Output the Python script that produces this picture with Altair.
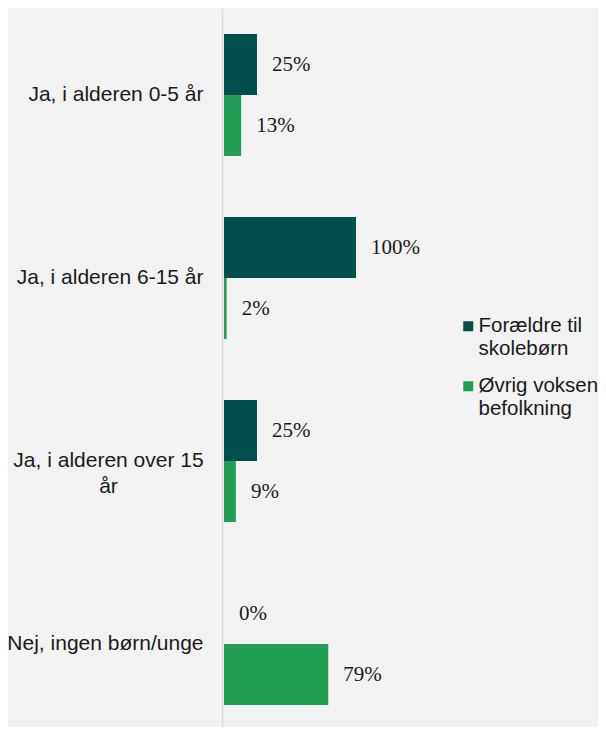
import altair as alt
import pandas as pd

categories = ["Ja, i alderen 0-5 år", "Ja, i alderen 6-15 år", "Ja, i alderen over 15 år", "Nej, ingen børn/unge"]
series = ["Forældre til skolebørn", "Øvrig voksen befolkning"]
foraeldre = [25, 100, 25, 0]
ovrig = [13, 2, 9, 79]
colors = ["#004F4D", "#229E54"]

rows = []
for c, a, b in zip(categories, foraeldre, ovrig):
    rows.append({"kategori": c, "serie": series[0], "vaerdi": a, "label": f"{a}%"})
    rows.append({"kategori": c, "serie": series[1], "vaerdi": b, "label": f"{b}%"})
df = pd.DataFrame(rows)

multi = "Ja, i alderen over 15 år"

y_enc = alt.Y(
    "kategori:N",
    sort=categories,
    scale=alt.Scale(paddingInner=1 / 3, paddingOuter=0.1311, align=0.542),
    axis=alt.Axis(
        title=None,
        offset=2,
        ticks=False,
        tickSize=0,
        grid=False,
        domainColor="#D9D9D9",
        domainWidth=1.5,
        labelFont="Liberation Sans",
        labelFontSize=21,
        labelColor="#1a1a1a",
        labelLimit=0,
        labelLineHeight=26,
        labelExpr=f"datum.label == '{multi}' ? ['Ja, i alderen over 15', 'år'] : datum.label",
        labelAlign={"condition": {"test": f"datum.label == '{multi}'", "value": "center"}, "value": "right"},
        labelPadding={"condition": {"test": f"datum.label == '{multi}'", "value": 114}, "value": 19},
    ),
)
yoff = alt.YOffset("serie:N", sort=series, scale=alt.Scale(paddingInner=0, paddingOuter=0))
x_enc = alt.X("vaerdi:Q", scale=alt.Scale(domain=[0, 100]), axis=None)

base = alt.Chart(df).encode(y=y_enc, yOffset=yoff, x=x_enc)

bars = base.mark_bar().encode(
    color=alt.Color(
        "serie:N",
        sort=series,
        scale=alt.Scale(domain=series, range=colors),
        legend=alt.Legend(
            title=None,
            orient="none",
            legendX=234,
            legendY=308,
            labelFont="Liberation Sans",
            labelFontSize=20.5,
            labelColor="#1a1a1a",
            labelLimit=0,
            labelOffset=0,
            rowPadding=16,
            symbolType="square",
            symbolSize=100,
            symbolStrokeWidth=0,
            symbolOpacity=1,
            labelExpr="datum.label == 'Forældre til skolebørn' ? ['Forældre til', 'skolebørn'] : ['Øvrig voksen', 'befolkning']",
        ),
    )
)

text = base.mark_text(
    align="left", baseline="middle", dx=15, font="Liberation Serif", fontSize=21, color="#1a1a1a"
).encode(text="label:N")

chart = (
    alt.layer(bars, text)
    .properties(
        width=132,
        height=719,
        background="#F2F2F2",
        autosize=alt.AutoSizeParams(type="none"),
        padding={"left": 216, "top": 0, "right": 242, "bottom": 0},
    )
    .configure_view(stroke=None)
)

chart.save("out.html", embed_options={"renderer": "svg", "actions": False})
